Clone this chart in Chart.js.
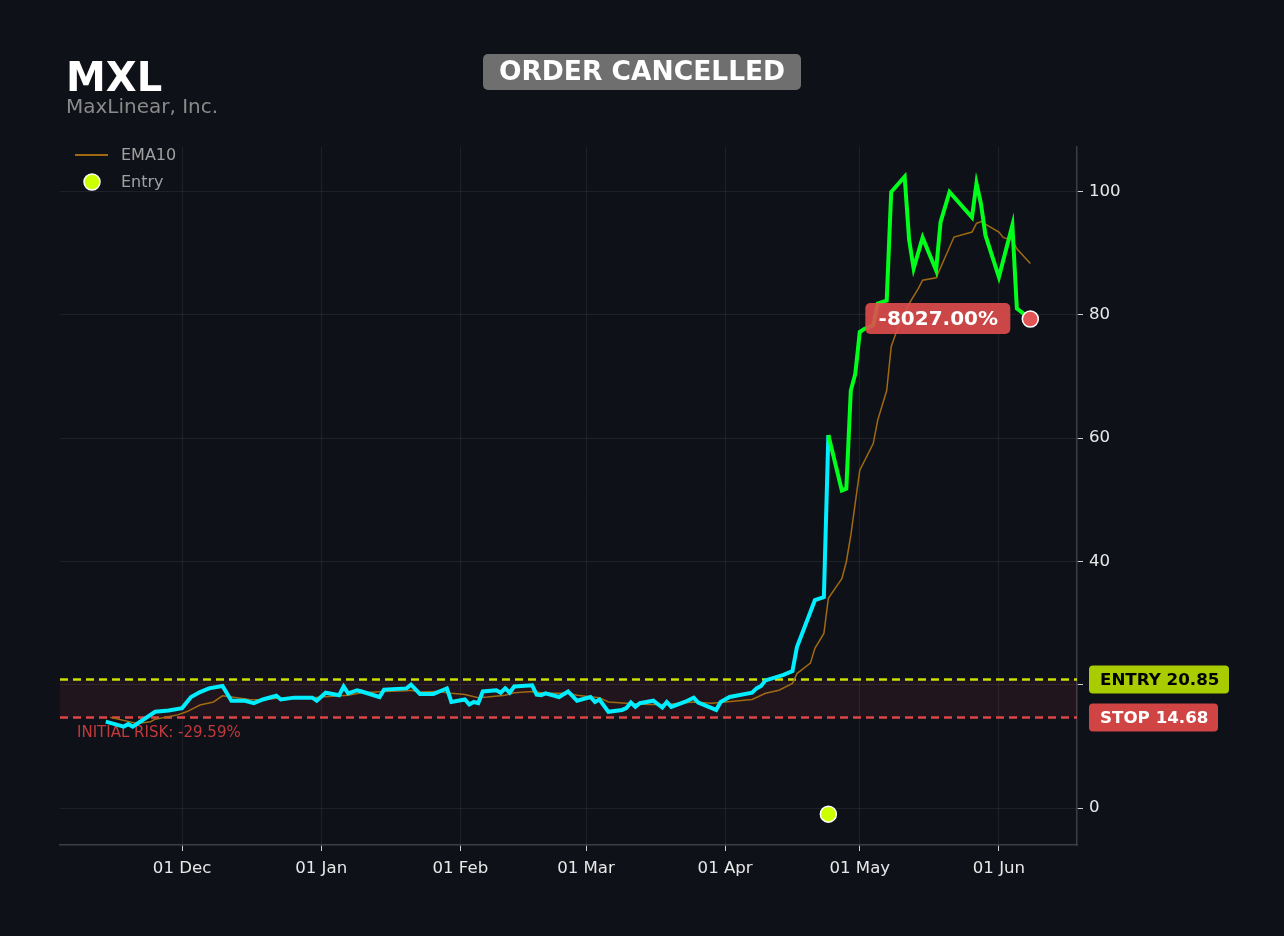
<!DOCTYPE html>
<html>
<head>
<meta charset="utf-8">
<script src="https://cdn.jsdelivr.net/npm/chart.js@4.4.1/dist/chart.umd.min.js"></script>
<style>
  html, body { margin: 0; padding: 0; background: #0e1118; }
  canvas { display: block; }
</style>
</head>
<body>
<canvas id="mychart" width="1284" height="936"></canvas>
<script>
// price path (close), cyan until the entry day, green after
const priceDates = [
  '2022-11-14','2022-11-18','2022-11-19','2022-11-20','2022-11-25','2022-11-28','2022-12-01','2022-12-03',
  '2022-12-05','2022-12-07','2022-12-10','2022-12-12','2022-12-15','2022-12-17','2022-12-19','2022-12-22',
  '2022-12-23','2022-12-26','2022-12-30','2022-12-31','2023-01-02','2023-01-05','2023-01-06','2023-01-07',
  '2023-01-09','2023-01-10','2023-01-14','2023-01-15','2023-01-20','2023-01-21','2023-01-23','2023-01-26',
  '2023-01-28','2023-01-29','2023-01-30','2023-02-02','2023-02-03','2023-02-04','2023-02-05','2023-02-06',
  '2023-02-09','2023-02-10','2023-02-11','2023-02-12','2023-02-13','2023-02-17','2023-02-18','2023-02-19',
  '2023-02-20','2023-02-23','2023-02-25','2023-02-27','2023-03-02','2023-03-03','2023-03-04','2023-03-06',
  '2023-03-09','2023-03-10','2023-03-11','2023-03-12','2023-03-13','2023-03-16','2023-03-18','2023-03-19',
  '2023-03-20','2023-03-23','2023-03-25','2023-03-26','2023-03-30','2023-03-31','2023-04-02','2023-04-07',
  '2023-04-08','2023-04-09','2023-04-10','2023-04-14','2023-04-16','2023-04-17','2023-04-21','2023-04-23',
  '2023-04-24','2023-04-27','2023-04-28','2023-04-29','2023-04-30','2023-05-01','2023-05-02','2023-05-04',
  '2023-05-05','2023-05-07','2023-05-08','2023-05-11','2023-05-12','2023-05-13','2023-05-15','2023-05-18',
  '2023-05-19','2023-05-21','2023-05-26','2023-05-27','2023-05-28','2023-05-29','2023-06-01','2023-06-04',
  '2023-06-05','2023-06-07','2023-06-08'
];
const priceValues = [
  14.0, 13.2, 13.6, 13.2, 15.6, 15.8, 16.2, 18.0,
  18.8, 19.4, 19.8, 17.4, 17.4, 17.0, 17.6, 18.2,
  17.6, 17.9, 17.9, 17.4, 18.7, 18.3, 19.7, 18.6,
  19.1, 18.9, 18.0, 19.2, 19.4, 20.0, 18.5, 18.5,
  19.1, 19.4, 17.2, 17.6, 16.8, 17.2, 17.0, 18.9,
  19.1, 18.7, 19.4, 18.7, 19.7, 19.9, 18.4, 18.3,
  18.6, 18.0, 18.9, 17.4, 18.0, 17.2, 17.6, 15.6,
  15.9, 16.2, 17.1, 16.4, 17.0, 17.4, 16.3, 17.2,
  16.4, 17.2, 17.9, 17.1, 15.9, 17.2, 18.0, 18.7,
  19.4, 19.8, 20.7, 21.6, 22.2, 26.1, 33.7, 34.2,
  60.5, 51.5, 51.8, 67.7, 70.4, 77.2, 77.7, 78.3,
  81.8, 82.3, 99.9, 102.4, 92.1, 87.5, 92.5, 87.2,
  95.0, 99.9, 95.8, 101.3, 98.0, 92.9, 86.1, 94.5,
  81.0, 79.9, 79.3
];

const emaDates = [
  '2022-11-15','2022-11-21','2022-11-24','2022-11-25','2022-11-30','2022-12-02','2022-12-05','2022-12-08',
  '2022-12-10','2022-12-12','2022-12-16','2022-12-19','2022-12-22','2022-12-29','2023-01-01','2023-01-07',
  '2023-01-10','2023-01-15','2023-01-20','2023-01-21','2023-01-23','2023-01-27','2023-01-30','2023-02-02',
  '2023-02-05','2023-02-07','2023-02-11','2023-02-13','2023-02-17','2023-02-20','2023-02-25','2023-02-27',
  '2023-03-04','2023-03-06','2023-03-10','2023-03-15','2023-03-19','2023-03-25','2023-03-29','2023-04-01',
  '2023-04-07','2023-04-10','2023-04-13','2023-04-16','2023-04-17','2023-04-20','2023-04-21','2023-04-23',
  '2023-04-24','2023-04-27','2023-04-28','2023-04-29','2023-05-01','2023-05-04','2023-05-05','2023-05-07',
  '2023-05-08','2023-05-09','2023-05-12','2023-05-14','2023-05-15','2023-05-18','2023-05-22','2023-05-26',
  '2023-05-27','2023-05-28','2023-06-01','2023-06-02','2023-06-04','2023-06-05','2023-06-08'
];
const emaValues = [
  14.7, 13.7, 14.0, 14.4, 15.1, 15.6, 16.7, 17.2,
  18.2, 18.0, 17.6, 17.5, 17.8, 17.8, 18.0, 18.3,
  18.7, 18.9, 19.0, 19.1, 18.8, 18.9, 18.6, 18.4,
  17.9, 18.0, 18.3, 18.7, 18.9, 18.6, 18.6, 18.3,
  17.9, 17.2, 17.0, 16.8, 16.8, 17.2, 17.0, 17.2,
  17.6, 18.6, 19.1, 20.2, 21.8, 23.5, 25.9, 28.3,
  34.0, 37.2, 39.9, 44.2, 54.8, 59.1, 62.9, 67.7,
  74.8, 76.9, 81.8, 84.2, 85.6, 86.0, 92.6, 93.4,
  94.8, 95.1, 93.4, 92.5, 92.1, 90.7, 88.3
];

const entryDate = '2023-04-24';
const entryMarker = -1.0;
const exitDate = '2023-06-08';
const exitValue = 79.3;
const entryPrice = 20.85;
const stopPrice = 14.68;
const monthTicks = ['2022-12-01','2023-01-01','2023-02-01','2023-03-01','2023-04-01','2023-05-01','2023-06-01'];
const yTicks = [0, 20, 40, 60, 80, 100];
const monthNames = ['Jan','Feb','Mar','Apr','May','Jun','Jul','Aug','Sep','Oct','Nov','Dec'];

function toDay(s) {
    let p = s.split('-').map(Number);
    return Date.UTC(p[0], p[1] - 1, p[2]) / 86400000;
}

const FONT = "'DejaVu Sans', sans-serif";
const entryDay = toDay(entryDate);

let cyanPts = [];
let greenPts = [];
for (var i = 0; i < priceDates.length; i++) {
    let d = toDay(priceDates[i]);
    let pt = { x: d, y: priceValues[i] };
    if (d <= entryDay) cyanPts.push(pt);
    if (d >= entryDay) greenPts.push(pt);
}
let emaPts = emaDates.map((s, i) => ({ x: toDay(s), y: emaValues[i] }));

function roundRect(ctx, x, y, w, h, r) {
    ctx.beginPath();
    ctx.moveTo(x + r, y);
    ctx.arcTo(x + w, y, x + w, y + h, r);
    ctx.arcTo(x + w, y + h, x, y + h, r);
    ctx.arcTo(x, y + h, x, y, r);
    ctx.arcTo(x, y, x + w, y, r);
    ctx.closePath();
}

// risk band + entry/stop lines under the data
const bandPlugin = {
    id: 'band',
    beforeDatasetsDraw(chart) {
        const { ctx, chartArea: a, scales: { y } } = chart;
        let yE = y.getPixelForValue(entryPrice);
        let yS = y.getPixelForValue(stopPrice);
        ctx.save();
        ctx.fillStyle = 'rgba(200, 60, 70, 0.10)';
        ctx.fillRect(a.left, yE, a.right - a.left, yS - yE);
        ctx.lineWidth = 2.4;
        ctx.setLineDash([8, 5]);
        ctx.strokeStyle = '#cce000';
        ctx.beginPath(); ctx.moveTo(a.left, yE); ctx.lineTo(a.right, yE); ctx.stroke();
        ctx.strokeStyle = '#dc4646';
        ctx.beginPath(); ctx.moveTo(a.left, yS); ctx.lineTo(a.right, yS); ctx.stroke();
        ctx.setLineDash([]);
        ctx.fillStyle = '#c23a3c';
        ctx.font = '15px ' + FONT;
        ctx.textBaseline = 'middle';
        ctx.fillText('INITIAL RISK: -29.59%', a.left + 17, yS + 16);
        ctx.restore();
    }
};

// titles, legend, badges and price labels on top
const overlayPlugin = {
    id: 'overlay',
    afterDraw(chart) {
        const { ctx, chartArea: a, scales: { x, y } } = chart;
        ctx.save();
        ctx.textBaseline = 'middle';

        ctx.fillStyle = '#ffffff';
        ctx.font = 'bold 40px ' + FONT;
        ctx.fillText('MXL', 66, 81);
        ctx.fillStyle = '#8a8a8a';
        ctx.font = '20px ' + FONT;
        ctx.fillText('MaxLinear, Inc.', 66, 108);

        // order status badge
        ctx.fillStyle = '#6f6f6f';
        roundRect(ctx, 483, 54, 318, 36, 5);
        ctx.fill();
        ctx.fillStyle = '#ffffff';
        ctx.font = 'bold 26.5px ' + FONT;
        ctx.textAlign = 'center';
        ctx.fillText('ORDER CANCELLED', 642, 73);
        ctx.textAlign = 'left';

        // legend
        ctx.strokeStyle = '#a06a12';
        ctx.lineWidth = 2;
        ctx.beginPath(); ctx.moveTo(75, 155); ctx.lineTo(108, 155); ctx.stroke();
        ctx.fillStyle = '#ccff00';
        ctx.strokeStyle = '#ffffff';
        ctx.lineWidth = 1.5;
        ctx.beginPath(); ctx.arc(92, 182, 8, 0, Math.PI * 2); ctx.fill(); ctx.stroke();
        ctx.fillStyle = '#a0a0a0';
        ctx.font = '16px ' + FONT;
        ctx.fillText('EMA10', 121, 156);
        ctx.fillText('Entry', 121, 183);

        // right side price tags
        let yE = y.getPixelForValue(entryPrice);
        let yS = y.getPixelForValue(stopPrice);
        ctx.font = 'bold 16.7px ' + FONT;
        ctx.fillStyle = '#a8cc00';
        roundRect(ctx, 1089, yE - 14, 140, 28, 4);
        ctx.fill();
        ctx.fillStyle = '#000000';
        ctx.fillText('ENTRY ' + entryPrice.toFixed(2), 1100, yE + 1);
        ctx.fillStyle = '#d04444';
        roundRect(ctx, 1089, yS - 14, 129, 28, 4);
        ctx.fill();
        ctx.fillStyle = '#ffffff';
        ctx.fillText('STOP ' + stopPrice.toFixed(2), 1100, yS + 1);

        // result tag beside exit
        let xe = x.getPixelForValue(toDay(exitDate));
        let ye = y.getPixelForValue(exitValue);
        ctx.globalAlpha = 0.9;
        ctx.fillStyle = '#e04c4c';
        roundRect(ctx, xe - 165, ye - 16, 145, 31, 5);
        ctx.fill();
        ctx.globalAlpha = 1;
        ctx.fillStyle = '#ffffff';
        ctx.font = 'bold 20px ' + FONT;
        ctx.textAlign = 'center';
        ctx.fillText('-8027.00%', xe - 92, ye + 1);
        ctx.restore();
    }
};

var ctx = document.getElementById('mychart').getContext('2d');
var chart = new Chart(ctx, {
    type: 'line',
    data: {
        datasets: [
            {
                label: 'Exit', type: 'scatter',
                data: [{ x: toDay(exitDate), y: exitValue }],
                backgroundColor: '#e35454', borderColor: '#ffffff', borderWidth: 1.5,
                pointRadius: 8, order: 0
            },
            {
                label: 'Entry', type: 'scatter',
                data: [{ x: entryDay, y: entryMarker }],
                backgroundColor: '#ccff00', borderColor: '#ffffff', borderWidth: 1.5,
                pointRadius: 8, order: 1
            },
            {
                label: 'Price after entry', data: greenPts,
                borderColor: '#00ff1a', borderWidth: 4, pointRadius: 0, tension: 0, order: 2
            },
            {
                label: 'Price', data: cyanPts,
                borderColor: '#00eeff', borderWidth: 4, pointRadius: 0, tension: 0, order: 3
            },
            {
                label: 'EMA10', data: emaPts,
                borderColor: '#a06a12', borderWidth: 1.5, pointRadius: 0, tension: 0, order: 4
            }
        ]
    },
    options: {
        responsive: false,
        animation: false,
        devicePixelRatio: 1,
        layout: { padding: { left: 60, top: 147, right: 157, bottom: 51 } },
        plugins: {
            legend: { display: false },
            tooltip: { enabled: false }
        },
        scales: {
            x: {
                type: 'linear',
                min: toDay('2022-12-01') - 27.2,
                max: toDay('2023-06-01') + 17.4,
                afterBuildTicks: (scale) => {
                    scale.ticks = monthTicks.map(s => ({ value: toDay(s) }));
                },
                afterFit: (scale) => { scale.height = 40; },
                grid: { color: 'rgba(255,255,255,0.07)', tickColor: '#d0d0d0', tickLength: 6 },
                border: { display: true, color: '#3a3e47', width: 1.5 },
                ticks: {
                    color: '#e8e8e8',
                    font: { family: FONT, size: 16.6 },
                    padding: 8,
                    maxRotation: 0,
                    callback: (v) => {
                        let d = new Date(v * 86400000);
                        return String(d.getUTCDate()).padStart(2, '0') + ' ' + monthNames[d.getUTCMonth()];
                    }
                }
            },
            y: {
                position: 'right',
                min: -6,
                max: 107.2,
                afterBuildTicks: (scale) => {
                    scale.ticks = yTicks.map(v => ({ value: v }));
                },
                afterFit: (scale) => { scale.width = 50; },
                grid: { color: 'rgba(255,255,255,0.07)', tickColor: '#d0d0d0', tickLength: 6 },
                border: { display: true, color: '#3a3e47', width: 1.5 },
                ticks: {
                    color: '#e8e8e8',
                    font: { family: FONT, size: 16.6 },
                    padding: 6
                }
            }
        }
    },
    plugins: [bandPlugin, overlayPlugin]
});
</script>
</body>
</html>
